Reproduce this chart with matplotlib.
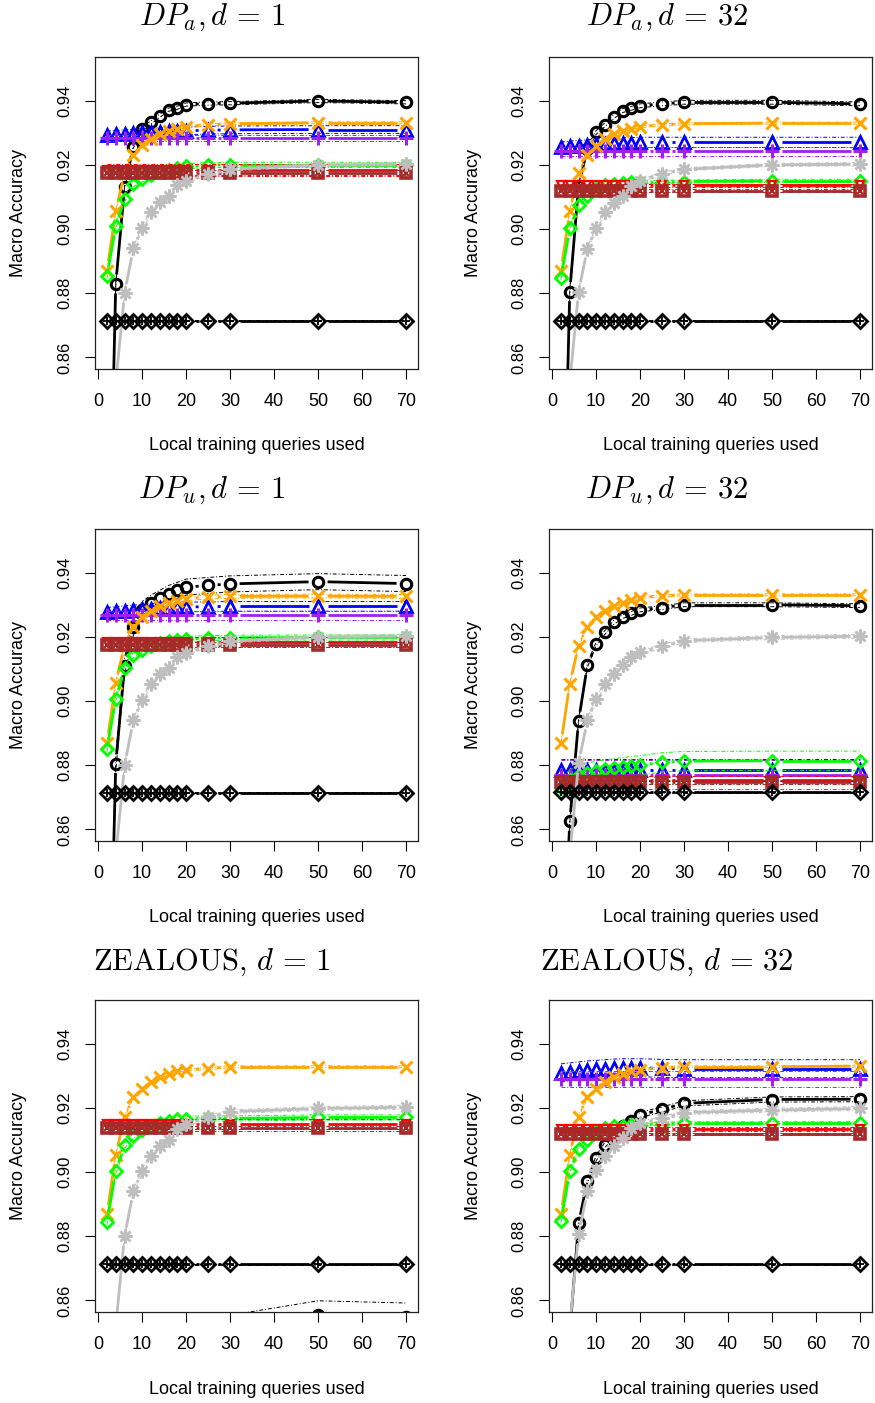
import matplotlib
matplotlib.use("Agg")
import numpy as np
import matplotlib.pyplot as plt

plt.rcParams['font.family'] = ['Liberation Sans', 'DejaVu Sans']
plt.rcParams['mathtext.fontset'] = 'cm'

queries = [2, 4, 6, 8, 10, 12, 14, 16, 18, 20, 25, 30, 50, 70]

# series order: black circle, blue triangle, purple plus, orange cross,
# green diamond, red triangle-down, brown boxed x, gray asterisk, black diamond-plus

# DP_a, d = 1
dpa1_black = [0.765, 0.8829, 0.913, 0.9257, 0.9313, 0.9332, 0.9353, 0.9372, 0.9378, 0.9388, 0.9391, 0.9392, 0.9399, 0.9395]
dpa1_blue = [0.9293, 0.9295, 0.9297, 0.9299, 0.9301, 0.9302, 0.9303, 0.9304, 0.9305, 0.9306, 0.9308, 0.9309, 0.931, 0.931]
dpa1_purple = [0.9283, 0.9283, 0.9283, 0.9283, 0.9283, 0.9283, 0.9283, 0.9283, 0.9283, 0.9283, 0.9283, 0.9283, 0.9283, 0.9283]
dpa1_orange = [0.887, 0.9056, 0.9174, 0.9232, 0.9263, 0.9282, 0.9295, 0.9307, 0.9313, 0.9319, 0.9325, 0.9328, 0.9331, 0.9331]
dpa1_green = [0.8854, 0.9009, 0.9093, 0.914, 0.9155, 0.9168, 0.9178, 0.9185, 0.919, 0.9196, 0.9199, 0.92, 0.92, 0.92]
dpa1_red = [0.9184, 0.9184, 0.9184, 0.9184, 0.9184, 0.9184, 0.9184, 0.9184, 0.9184, 0.9184, 0.9184, 0.9184, 0.9184, 0.9184]
dpa1_brown = [0.9175, 0.9175, 0.9175, 0.9175, 0.9175, 0.9175, 0.9175, 0.9175, 0.9175, 0.9175, 0.9175, 0.9175, 0.9175, 0.9175]
dpa1_gray = [0.80, 0.852, 0.880, 0.894, 0.9003, 0.9052, 0.9083, 0.9104, 0.9138, 0.9151, 0.917, 0.9186, 0.920, 0.9202]
dpa1_base = [0.8715, 0.8715, 0.8715, 0.8715, 0.8715, 0.8715, 0.8715, 0.8715, 0.8715, 0.8715, 0.8715, 0.8715, 0.8715, 0.8715]
dpa1_band = [0.0005, 0.0012, 0.001, 0.0003, 0.0008, 0.0018, 0.0008, 0.0005, 0.0002]

# DP_a, d = 32
dpa32_black = [0.77, 0.8805, 0.9135, 0.925, 0.9301, 0.9325, 0.935, 0.9369, 0.9376, 0.9384, 0.939, 0.9395, 0.9395, 0.939]
dpa32_blue = [0.9255, 0.9258, 0.926, 0.9262, 0.9264, 0.9266, 0.9267, 0.9268, 0.9269, 0.927, 0.927, 0.927, 0.927, 0.927]
dpa32_purple = [0.9242, 0.9242, 0.9242, 0.9242, 0.9242, 0.9242, 0.9242, 0.9242, 0.9242, 0.9242, 0.9242, 0.9242, 0.9242, 0.9242]
dpa32_orange = [0.887, 0.9056, 0.9174, 0.9232, 0.926, 0.9282, 0.9295, 0.9307, 0.9313, 0.9319, 0.9325, 0.9328, 0.933, 0.933]
dpa32_green = [0.8848, 0.9002, 0.9074, 0.9102, 0.9128, 0.9138, 0.914, 0.9143, 0.9146, 0.9147, 0.9147, 0.9148, 0.915, 0.915]
dpa32_red = [0.9136, 0.9136, 0.9136, 0.9136, 0.9136, 0.9136, 0.9136, 0.9136, 0.9136, 0.9136, 0.9136, 0.9136, 0.9136, 0.9136]
dpa32_brown = [0.912, 0.912, 0.912, 0.912, 0.912, 0.912, 0.912, 0.912, 0.912, 0.912, 0.912, 0.912, 0.912, 0.912]
dpa32_gray = [0.80, 0.852, 0.8805, 0.8938, 0.9003, 0.9052, 0.9081, 0.9104, 0.9133, 0.9151, 0.9172, 0.9186, 0.920, 0.9202]
dpa32_base = [0.8715, 0.8715, 0.8715, 0.8715, 0.8715, 0.8715, 0.8715, 0.8715, 0.8715, 0.8715, 0.8715, 0.8715, 0.8715, 0.8715]
dpa32_band = [0.0006, 0.0016, 0.0014, 0.0003, 0.0005, 0.0005, 0.0004, 0.0005, 0.0002]

# DP_u, d = 1
dpu1_black = [0.77, 0.8805, 0.911, 0.923, 0.9285, 0.9305, 0.932, 0.9335, 0.9345, 0.9355, 0.936, 0.9365, 0.9372, 0.9366]
dpu1_blue = [0.9276, 0.9279, 0.9282, 0.9284, 0.9286, 0.9288, 0.929, 0.9291, 0.9292, 0.9293, 0.9294, 0.9295, 0.9295, 0.9295]
dpu1_purple = [0.9267, 0.9267, 0.9267, 0.9267, 0.9267, 0.9267, 0.9267, 0.9267, 0.9267, 0.9267, 0.9267, 0.9267, 0.9267, 0.9267]
dpu1_orange = [0.887, 0.9056, 0.9174, 0.9232, 0.9263, 0.9282, 0.9295, 0.9307, 0.9313, 0.9319, 0.9324, 0.9326, 0.9327, 0.9326]
dpu1_green = [0.885, 0.9006, 0.9102, 0.9143, 0.916, 0.9172, 0.918, 0.9186, 0.919, 0.9193, 0.9196, 0.9197, 0.9198, 0.9198]
dpu1_red = [0.9184, 0.9184, 0.9184, 0.9184, 0.9184, 0.9184, 0.9184, 0.9184, 0.9184, 0.9184, 0.9184, 0.9184, 0.9184, 0.9184]
dpu1_brown = [0.9175, 0.9175, 0.9175, 0.9175, 0.9175, 0.9175, 0.9175, 0.9175, 0.9175, 0.9175, 0.9175, 0.9175, 0.9175, 0.9175]
dpu1_gray = [0.80, 0.852, 0.880, 0.894, 0.9003, 0.9052, 0.9083, 0.9104, 0.9138, 0.9151, 0.917, 0.9186, 0.920, 0.9202]
dpu1_base = [0.8715, 0.8715, 0.8715, 0.8715, 0.8715, 0.8715, 0.8715, 0.8715, 0.8715, 0.8715, 0.8715, 0.8715, 0.8715, 0.8715]
dpu1_band = [0.0025, 0.0015, 0.0015, 0.0006, 0.0008, 0.0015, 0.0008, 0.0005, 0.0002]

# DP_u, d = 32
dpu32_black = [0.80, 0.8625, 0.8938, 0.9111, 0.9178, 0.9214, 0.9245, 0.9263, 0.9273, 0.9284, 0.9291, 0.930, 0.930, 0.9297]
dpu32_blue = [0.8785, 0.8785, 0.8785, 0.8785, 0.8785, 0.8785, 0.8785, 0.8785, 0.8785, 0.8785, 0.8785, 0.8785, 0.8785, 0.8785]
dpu32_purple = [0.8771, 0.8771, 0.8771, 0.8771, 0.8771, 0.8771, 0.8771, 0.8771, 0.8771, 0.8771, 0.8771, 0.8771, 0.8771, 0.8771]
dpu32_orange = [0.8868, 0.9054, 0.9173, 0.9232, 0.9263, 0.9281, 0.9297, 0.9307, 0.9314, 0.9322, 0.9328, 0.9331, 0.9331, 0.9331]
dpu32_green = [0.8728, 0.8755, 0.877, 0.8777, 0.8782, 0.8787, 0.879, 0.8794, 0.8797, 0.880, 0.8809, 0.8813, 0.8814, 0.8814]
dpu32_red = [0.8754, 0.8754, 0.8754, 0.8754, 0.8754, 0.8754, 0.8754, 0.8754, 0.8754, 0.8754, 0.8754, 0.8754, 0.8754, 0.8754]
dpu32_brown = [0.8748, 0.8748, 0.8748, 0.8748, 0.8748, 0.8748, 0.8748, 0.8748, 0.8748, 0.8748, 0.8748, 0.8748, 0.8748, 0.8748]
dpu32_gray = [0.80, 0.852, 0.8806, 0.894, 0.9007, 0.9052, 0.9085, 0.9111, 0.9136, 0.9152, 0.917, 0.9188, 0.9198, 0.9202]
dpu32_base = [0.8716, 0.8716, 0.8716, 0.8716, 0.8716, 0.8716, 0.8716, 0.8716, 0.8716, 0.8716, 0.8716, 0.8716, 0.8716, 0.8716]
dpu32_band = [0.0006, 0.0033, 0.0045, 0.0003, 0.003, 0.0012, 0.0006, 0.0006, 0.0002]

# ZEALOUS, d = 1 (blue and purple fall below the plotted range)
zeal1_black = [0.70, 0.72, 0.75, 0.77, 0.79, 0.80, 0.81, 0.82, 0.83, 0.838, 0.846, 0.851, 0.8555, 0.8548]
zeal1_blue = None
zeal1_purple = None
zeal1_orange = [0.8868, 0.9054, 0.9173, 0.9233, 0.926, 0.9281, 0.9295, 0.9305, 0.9314, 0.9319, 0.9322, 0.9328, 0.9328, 0.9328]
zeal1_green = [0.8844, 0.9002, 0.9083, 0.9113, 0.9131, 0.9145, 0.9154, 0.916, 0.9164, 0.9166, 0.9167, 0.9167, 0.917, 0.917]
zeal1_red = [0.915, 0.915, 0.915, 0.915, 0.915, 0.915, 0.915, 0.915, 0.915, 0.915, 0.915, 0.915, 0.915, 0.915]
zeal1_brown = [0.9136, 0.9136, 0.9136, 0.9136, 0.9136, 0.9136, 0.9136, 0.9136, 0.9136, 0.9136, 0.9136, 0.9136, 0.9136, 0.9136]
zeal1_gray = [0.80, 0.852, 0.880, 0.894, 0.9002, 0.9051, 0.9082, 0.910, 0.9133, 0.915, 0.917, 0.9188, 0.9198, 0.9202]
zeal1_base = [0.8713, 0.8713, 0.8713, 0.8713, 0.8713, 0.8713, 0.8713, 0.8713, 0.8713, 0.8713, 0.8713, 0.8713, 0.8713, 0.8713]
zeal1_band = [0.0044, 0.0, 0.0, 0.0003, 0.0008, 0.0015, 0.0007, 0.0006, 0.0002]

# ZEALOUS, d = 32
zeal32_black = [0.80, 0.85, 0.884, 0.8971, 0.9043, 0.9085, 0.9113, 0.9142, 0.916, 0.9178, 0.9195, 0.9214, 0.9226, 0.9227]
zeal32_blue = [0.9309, 0.9312, 0.9315, 0.9318, 0.932, 0.9322, 0.9324, 0.9325, 0.9325, 0.9325, 0.9323, 0.9322, 0.9322, 0.9322]
zeal32_purple = [0.9291, 0.9291, 0.9291, 0.9291, 0.9291, 0.9291, 0.9291, 0.9291, 0.9291, 0.9291, 0.9291, 0.9291, 0.9291, 0.9291]
zeal32_orange = [0.8868, 0.9054, 0.9173, 0.9233, 0.926, 0.9281, 0.9297, 0.9307, 0.9314, 0.9319, 0.9325, 0.9328, 0.9328, 0.933]
zeal32_green = [0.8847, 0.9002, 0.9071, 0.910, 0.9126, 0.9136, 0.9142, 0.9144, 0.9147, 0.9148, 0.915, 0.9152, 0.9152, 0.9152]
zeal32_red = [0.9134, 0.9134, 0.9134, 0.9134, 0.9134, 0.9134, 0.9134, 0.9134, 0.9134, 0.9134, 0.9134, 0.9134, 0.9134, 0.9134]
zeal32_brown = [0.9118, 0.9118, 0.9118, 0.9118, 0.9118, 0.9118, 0.9118, 0.9118, 0.9118, 0.9118, 0.9118, 0.9118, 0.9118, 0.9118]
zeal32_gray = [0.80, 0.852, 0.8806, 0.894, 0.9007, 0.9049, 0.908, 0.9105, 0.9136, 0.9152, 0.9167, 0.9185, 0.9193, 0.9198]
zeal32_base = [0.8713, 0.8713, 0.8713, 0.8713, 0.8713, 0.8713, 0.8713, 0.8713, 0.8713, 0.8713, 0.8713, 0.8713, 0.8713, 0.8713]
zeal32_band = [0.0008, 0.0028, 0.0025, 0.0003, 0.0005, 0.0005, 0.0004, 0.0006, 0.0002]

titles = [r"$DP_a, d\,=\,1$", r"$DP_a, d\,=\,32$",
          r"$DP_u, d\,=\,1$", r"$DP_u, d\,=\,32$",
          r"$\mathrm{ZEALOUS},\,d\,=\,1$", r"$\mathrm{ZEALOUS},\,d\,=\,32$"]

panels = [
    ([dpa1_black, dpa1_blue, dpa1_purple, dpa1_orange, dpa1_green, dpa1_red, dpa1_brown, dpa1_gray, dpa1_base], dpa1_band),
    ([dpa32_black, dpa32_blue, dpa32_purple, dpa32_orange, dpa32_green, dpa32_red, dpa32_brown, dpa32_gray, dpa32_base], dpa32_band),
    ([dpu1_black, dpu1_blue, dpu1_purple, dpu1_orange, dpu1_green, dpu1_red, dpu1_brown, dpu1_gray, dpu1_base], dpu1_band),
    ([dpu32_black, dpu32_blue, dpu32_purple, dpu32_orange, dpu32_green, dpu32_red, dpu32_brown, dpu32_gray, dpu32_base], dpu32_band),
    ([zeal1_black, zeal1_blue, zeal1_purple, zeal1_orange, zeal1_green, zeal1_red, zeal1_brown, zeal1_gray, zeal1_base], zeal1_band),
    ([zeal32_black, zeal32_blue, zeal32_purple, zeal32_orange, zeal32_green, zeal32_red, zeal32_brown, zeal32_gray, zeal32_base], zeal32_band),
]

colors = ["black", "#0000FF", "#A020F0", "#FFA500", "#00FF00", "#FF0000", "#A52A2A", "#BEBEBE", "black"]
# each marker given as a list of (marker, size, edge width) layered on top of each other
markers = [
    [("o", 7.5, 2.2)],
    [("^", 8.5, 2.0)],
    [("+", 10, 2.2)],
    [("x", 8, 2.2)],
    [("D", 6.5, 2.0)],
    [("v", 5.5, 1.6)],
    [("s", 7.5, 2.6), ("x", 5, 1.6)],
    [((8, 2, 0), 10, 1.8)],
    [("D", 7.5, 2.0), ("+", 6, 1.3)],
]

W, H = 875, 1403
col_left = [95, 549]
row_top = [57, 529, 1000]
box_w, box_h = 323, 312
title_x = [212, 667]
title_y = [17, 490, 962]

fig = plt.figure(figsize=(W / 100, H / 100), dpi=100)


def gap_line(ax, xs, ys, color, lw, gap=9.5):
    # R type="b": segments between points with a gap round each point
    pts = ax.transData.transform(np.column_stack([xs, ys]))
    inv = ax.transData.inverted()
    for p, q in zip(pts[:-1], pts[1:]):
        d = q - p
        L = np.hypot(d[0], d[1])
        if L <= 2 * gap:
            continue
        u = d / L
        seg = inv.transform(np.array([p + u * gap, q - u * gap]))
        ax.plot(seg[:, 0], seg[:, 1], color=color, lw=lw, solid_capstyle="butt")


for k, (series, band) in enumerate(panels):
    r, c = divmod(k, 2)
    ax = fig.add_axes([col_left[c] / W, 1 - (row_top[r] + box_h) / H, box_w / W, box_h / H])
    ax.set_xlim(-0.72, 72.72)
    ax.set_ylim(0.8564, 0.9536)

    for i, ys in enumerate(series):
        if ys is None:
            continue
        ys = np.array(ys)
        col = colors[i]
        if band[i] > 0:
            ax.plot(queries, ys + band[i], color=col, lw=0.7, ls=(0, (4, 2, 1, 2)))
            ax.plot(queries, ys - band[i], color=col, lw=0.7, ls=(0, (4, 2, 1, 2)))
        gap_line(ax, queries, ys, col, 2.0)
        for m, ms, mew in markers[i]:
            ax.plot(queries, ys, ls="none", marker=m, ms=ms, mew=mew,
                    mec=col, mfc="none", color=col)

    ax.set_xticks(range(0, 71, 10))
    ax.set_yticks([0.86, 0.88, 0.90, 0.92, 0.94])
    ax.set_yticklabels(["0.86", "0.88", "0.90", "0.92", "0.94"], rotation=90, va="center")
    ax.tick_params(axis="x", direction="out", length=7, width=0.8, labelsize=13, pad=10)
    ax.tick_params(axis="y", direction="out", length=7, width=0.8, labelsize=12, pad=9)
    for s in ax.spines.values():
        s.set_linewidth(0.9)
        s.set_color("#222222")
    ax.set_xlabel("Local training queries used", fontsize=13)
    ax.xaxis.set_label_coords(0.5, -(446 - 369) / box_h)
    ax.xaxis.label.set_va("center")
    ax.set_ylabel("Macro Accuracy", fontsize=13)
    ax.yaxis.set_label_coords(-(95 - 19) / box_w, 0.5)
    ax.yaxis.label.set_va("center")

    fig.text(title_x[c] / W, 1 - title_y[r] / H, titles[k], ha="center", va="center", fontsize=22)

fig.savefig("out.png", dpi=100)
